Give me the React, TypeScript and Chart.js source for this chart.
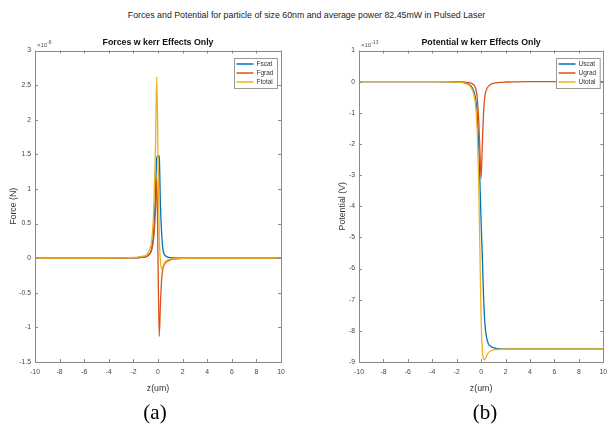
import React, { useEffect, useRef } from 'react';
import { Chart, registerables } from 'chart.js';
Chart.register(...registerables);

// ---------- data ----------
const zForce = [-10, -4, -3, -2, -1.5, -1.2, -1, -0.8, -0.6, -0.5, -0.4, -0.3, -0.2, -0.1, 0, 0.1, 0.2, 0.3, 0.4, 0.5, 0.6, 0.8, 1, 1.2, 1.5, 2, 3, 4, 10];
const fScat = [0, 0.001, 0.002, 0.005, 0.01, 0.015, 0.02, 0.04, 0.09, 0.15, 0.28, 0.55, 0.95, 1.45, 1.48, 1.47, 0.75, 0.35, 0.13, 0.06, 0.035, 0.015, 0.008, 0.005, 0.003, 0.001, 0, 0, 0];
const fGrad = [0, 0.001, 0.002, 0.005, 0.01, 0.015, 0.02, 0.04, 0.08, 0.13, 0.22, 0.4, 0.7, 1.15, 0.0, -1.13, -0.65, -0.3, -0.15, -0.1, -0.07, -0.04, -0.025, -0.015, -0.008, -0.004, 0, 0, 0];
const fTotal = [0, 0.002, 0.004, 0.01, 0.02, 0.03, 0.04, 0.08, 0.17, 0.28, 0.5, 0.95, 1.65, 2.62, 1.48, 0.33, -0.04, -0.16, -0.12, -0.08, -0.05, -0.025, -0.012, -0.008, -0.004, -0.002, 0, 0, 0];

const zPot = [-10, -4, -3, -2, -1.5, -1.2, -1, -0.8, -0.6, -0.5, -0.4, -0.3, -0.2, -0.1, 0, 0.1, 0.2, 0.3, 0.4, 0.5, 0.6, 0.8, 1, 1.2, 1.5, 2, 3, 4, 10];
const uScat = [0, 0, -0.002, -0.01, -0.02, -0.05, -0.08, -0.15, -0.3, -0.45, -0.7, -1.2, -2.0, -3.2, -4.5, -5.6, -6.9, -7.7, -8.1, -8.3, -8.42, -8.5, -8.54, -8.56, -8.57, -8.58, -8.58, -8.58, -8.58];
const uGrad = [0, 0, 0, -0.005, -0.01, -0.02, -0.03, -0.05, -0.1, -0.16, -0.28, -0.6, -1.2, -2.2, -3.1, -2.0, -1.0, -0.5, -0.3, -0.2, -0.15, -0.08, -0.05, -0.035, -0.02, -0.01, -0.003, 0, 0];
const uTotal = [0, 0, -0.002, -0.015, -0.03, -0.07, -0.11, -0.2, -0.4, -0.61, -0.98, -1.8, -3.2, -5.4, -7.6, -8.6, -8.9, -8.92, -8.85, -8.76, -8.7, -8.64, -8.61, -8.6, -8.59, -8.58, -8.58, -8.58, -8.58];

const forceLabels = ['Fscat', 'Fgrad', 'Ftotal'];
const potLabels = ['Uscat', 'Ugrad', 'Utotal'];

const mainTitle = 'Forces and Potential for particle of size 60nm and average power 82.45mW in Pulsed Laser';
const forceTitle = 'Forces w kerr Effects Only';
const potTitle = 'Potential w kerr Effects Only';

const COLORS = ['#0072BD', '#D95319', '#EDB120'];
const FONT = '"Liberation Sans", Arial, Helvetica, sans-serif';
const AXIS = '#8a8a8a';
const TXT = '#444';

const pts = (z: number[], v: number[]) => z.map((x, i) => ({ x, y: v[i] }));

const matlabAxes = {
  id: 'matlabAxes',
  afterDatasetsDraw(chart: any) {
    const { ctx, chartArea: a, scales } = chart;
    ctx.save();
    ctx.strokeStyle = AXIS;
    ctx.lineWidth = 1;
    const tl = 3;
    ctx.beginPath();
    for (const t of scales.x.ticks) {
      const p = Math.round(scales.x.getPixelForValue(t.value)) + 0.5;
      ctx.moveTo(p, a.bottom); ctx.lineTo(p, a.bottom - tl);
      ctx.moveTo(p, a.top); ctx.lineTo(p, a.top + tl);
    }
    for (const t of scales.y.ticks) {
      const p = Math.round(scales.y.getPixelForValue(t.value)) + 0.5;
      ctx.moveTo(a.left, p); ctx.lineTo(a.left + tl, p);
      ctx.moveTo(a.right, p); ctx.lineTo(a.right - tl, p);
    }
    ctx.stroke();
    ctx.strokeRect(Math.round(a.left) + 0.5, Math.round(a.top) + 0.5, Math.round(a.width), Math.round(a.height));

    // legend box (MATLAB style, inside top-right)
    const ds = chart.data.datasets;
    ctx.font = `6.5px ${FONT}`;
    const textW = Math.max(...ds.map((d: any) => ctx.measureText(d.label).width));
    const lineLen = 17;
    const w = 2 + lineLen + 3 + textW + 4;
    const rowH = 9;
    const h = ds.length * rowH + 3;
    const x0 = Math.round(a.right - 4 - w) + 0.5;
    const y0 = Math.round(a.top + 7) + 0.5;
    ctx.fillStyle = '#fff';
    ctx.fillRect(x0, y0, w, h);
    ctx.strokeStyle = '#9a9a9a';
    ctx.strokeRect(x0, y0, w, h);
    ds.forEach((d: any, i: number) => {
      const cy = y0 + 5.5 + i * rowH;
      ctx.strokeStyle = d.borderColor;
      ctx.lineWidth = 1.5;
      ctx.beginPath();
      ctx.moveTo(x0 + 2, cy); ctx.lineTo(x0 + 2 + lineLen, cy);
      ctx.stroke();
      ctx.fillStyle = '#333';
      ctx.textBaseline = 'middle';
      ctx.textAlign = 'left';
      ctx.fillText(d.label, x0 + 2 + lineLen + 3, cy);
    });
    ctx.restore();
  },
};

function makeConfig(opts: {
  z: number[]; series: number[][]; labels: string[]; title: string; yTitle: string;
  yMin: number; yMax: number; yStep: number; yWidth: number; yTitlePad: number; padRight: number;
}) {
  return {
    type: 'scatter' as const,
    data: {
      datasets: opts.series.map((s, i) => ({
        label: opts.labels[i],
        data: pts(opts.z, s),
        showLine: true,
        borderColor: COLORS[i],
        backgroundColor: COLORS[i],
        borderWidth: 1.3,
        pointRadius: 0,
        cubicInterpolationMode: 'monotone' as const,
        order: 3 - i,
      })),
    },
    options: {
      responsive: false,
      animation: false as const,
      devicePixelRatio: 1,
      layout: { padding: { top: 30, bottom: 30, left: 0, right: opts.padRight } },
      plugins: {
        legend: { display: false },
        tooltip: { enabled: false },
        title: {
          display: true,
          text: opts.title,
          fullSize: false,
          color: '#111',
          font: { family: FONT, size: 8.8, weight: 'bold' as const, lineHeight: 1.2 },
          padding: { top: 7, bottom: 3 },
        },
      },
      scales: {
        x: {
          type: 'linear' as const,
          min: -10, max: 10,
          grid: { display: false, drawTicks: false },
          border: { display: false },
          ticks: { stepSize: 2, autoSkip: false, maxRotation: 0, padding: 6, color: TXT, font: { family: FONT, size: 6.8 }, callback: (v: any) => String(v) },
          title: { display: true, text: 'z(um)', color: '#333', font: { family: FONT, size: 8.8, lineHeight: 1.2 }, padding: { top: 0, bottom: 8 } },
          afterFit: (s: any) => { s.height = 40; },
        },
        y: {
          type: 'linear' as const,
          min: opts.yMin, max: opts.yMax,
          grid: { display: false, drawTicks: false },
          border: { display: false },
          ticks: { stepSize: opts.yStep, autoSkip: false, padding: 4, color: TXT, font: { family: FONT, size: 6.8 }, callback: (v: any) => String(v) },
          title: { display: true, text: opts.yTitle, color: '#333', font: { family: FONT, size: 8.8, lineHeight: 1.2 }, padding: { top: opts.yTitlePad, bottom: 0 } },
          afterFit: (s: any) => { s.width = opts.yWidth; },
        },
      },
    },
    plugins: [matlabAxes],
  };
}

function Panel({ left, width, cfg }: { left: number; width: number; cfg: any }) {
  const ref = useRef<HTMLCanvasElement>(null);
  useEffect(() => {
    const chart = new Chart(ref.current as HTMLCanvasElement, cfg);
    return () => chart.destroy();
  }, []);
  return (
    <canvas
      ref={ref}
      width={width}
      height={432}
      style={{ position: 'absolute', left, top: 0, width, height: 432 }}
    />
  );
}

export default function App() {
  const forceCfg = makeConfig({
    z: zForce, series: [fScat, fGrad, fTotal], labels: forceLabels, title: forceTitle, yTitle: 'Force (N)',
    yMin: -1.5, yMax: 3, yStep: 0.5, yWidth: 35, yTitlePad: 8, padRight: 25,
  });
  const potCfg = makeConfig({
    z: zPot, series: [uScat, uGrad, uTotal], labels: potLabels, title: potTitle, yTitle: 'Potential (V)',
    yMin: -9, yMax: 1, yStep: 1, yWidth: 53, yTitlePad: 31, padRight: 8,
  });
  const expStyle: React.CSSProperties = {
    position: 'absolute', top: 38, fontFamily: FONT, fontSize: 6, color: '#555', lineHeight: '8px', whiteSpace: 'nowrap',
  };
  const capStyle: React.CSSProperties = {
    position: 'absolute', top: 412, transform: 'translate(-50%, -50%)',
    fontFamily: '"Liberation Serif", "Times New Roman", serif', fontSize: 21, color: '#000', lineHeight: '24px',
  };
  return (
    <div style={{ position: 'fixed', left: 0, top: 0, width: 613, height: 432, background: '#fff', overflow: 'hidden' }}>
      <div style={{ position: 'absolute', left: 0, top: 9, width: 613, textAlign: 'center', fontFamily: FONT, fontSize: 8.8, lineHeight: '12px', color: '#222' }}>
        {mainTitle}
      </div>
      <Panel left={0} width={306} cfg={forceCfg} />
      <Panel left={306} width={307} cfg={potCfg} />
      <div style={{ ...expStyle, left: 37 }}>×10<sup style={{ fontSize: 5 }}>-8</sup></div>
      <div style={{ ...expStyle, left: 361 }}>×10<sup style={{ fontSize: 5 }}>-13</sup></div>
      <div style={{ ...capStyle, left: 155 }}>(a)</div>
      <div style={{ ...capStyle, left: 485 }}>(b)</div>
    </div>
  );
}
